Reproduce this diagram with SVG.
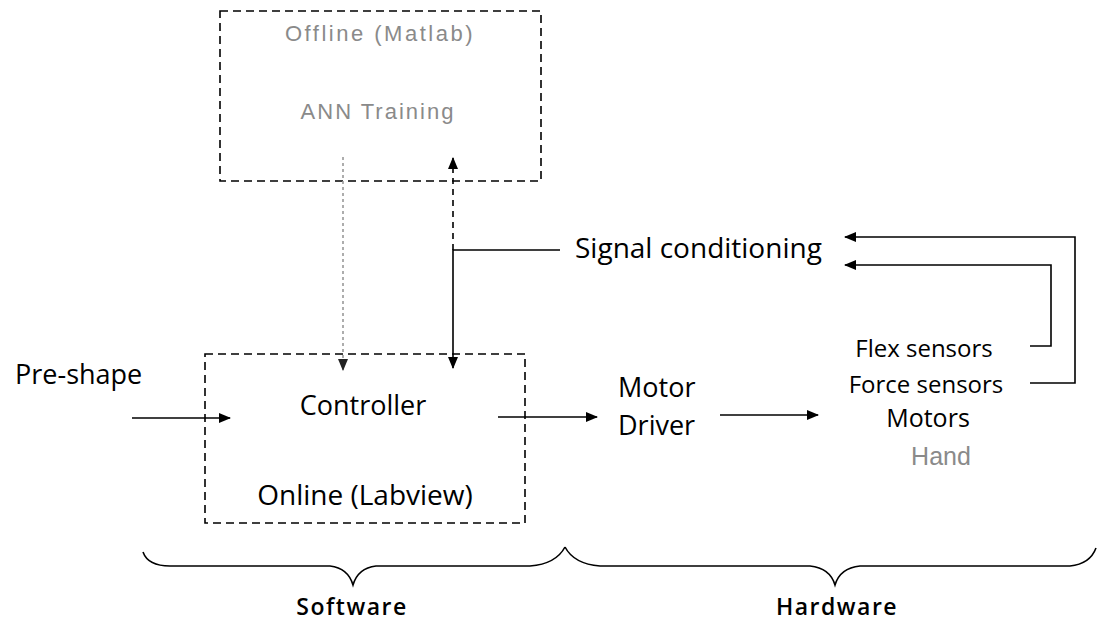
<svg xmlns="http://www.w3.org/2000/svg" width="1102" height="629" viewBox="0 0 1102 629">
<defs>
<marker id="ah" viewBox="0 0 12 10" refX="11" refY="5" markerWidth="12" markerHeight="10" markerUnits="userSpaceOnUse" orient="auto">
<path d="M0,0 L12,5 L0,10 Z" fill="#000"/>
</marker>
<marker id="ahg" viewBox="0 0 12 10" refX="11" refY="5" markerWidth="12" markerHeight="10" markerUnits="userSpaceOnUse" orient="auto">
<path d="M0,0 L12,5 L0,10 Z" fill="#222"/>
</marker>
</defs>
<style>
.box{fill:none;stroke:#000;stroke-width:1.6;stroke-dasharray:8 5}
.t{font-family:"Open Sans","Noto Sans",sans-serif;fill:#000}
.g{font-family:"Liberation Sans",Arial,sans-serif;fill:#8a8a8a}
.c{fill:none;stroke:#000;stroke-width:1.6}
.brace{fill:none;stroke:#000;stroke-width:1.6}
</style>
<rect width="1102" height="629" fill="#fff"/>
<g id="offline">
<rect class="box" x="220" y="11" width="321" height="170"/>
<text class="g" x="380" y="41" font-size="22" letter-spacing="2.5" text-anchor="middle">Offline (Matlab)</text>
<text class="g" x="378" y="119" font-size="22" letter-spacing="2" text-anchor="middle">ANN Training</text>
</g>
<g id="controller">
<rect class="box" x="205" y="354" width="320" height="169"/>
<text class="t" x="363" y="415" font-size="27" text-anchor="middle">Controller</text>
<text class="t" x="365" y="505" font-size="28" text-anchor="middle">Online (Labview)</text>
</g>
<g id="preshape">
<text class="t" x="15" y="384" font-size="27">Pre-shape</text>
</g>
<g id="signal">
<text class="t" x="575" y="258" font-size="28">Signal conditioning</text>
</g>
<g id="motordriver">
<text class="t" x="618" y="397" font-size="27">Motor</text>
<text class="t" x="618" y="435" font-size="27">Driver</text>
</g>
<g id="hand">
<text class="t" x="924" y="357" font-size="24" text-anchor="middle">Flex sensors</text>
<text class="t" x="926" y="393" font-size="24" text-anchor="middle">Force sensors</text>
<text class="t" x="928" y="427" font-size="25" text-anchor="middle">Motors</text>
<text class="g" x="941" y="465" font-size="25" text-anchor="middle">Hand</text>
</g>
<g id="connectors">
<line class="c" x1="132" y1="418" x2="230" y2="418" marker-end="url(#ah)"/>
<line class="c" x1="498" y1="417" x2="597" y2="417" marker-end="url(#ah)"/>
<line class="c" x1="720" y1="415" x2="818" y2="415" marker-end="url(#ah)"/>
<polyline class="c" points="1030,383 1075,383 1075,237 845,237" marker-end="url(#ah)"/>
<polyline class="c" points="1030,346 1051,346 1051,265 845,265" marker-end="url(#ah)"/>
<polyline class="c" points="560,250 453,250 453,368" marker-end="url(#ah)"/>
<line class="c" x1="453" y1="250" x2="453" y2="158" stroke-dasharray="6 5" marker-end="url(#ah)"/>
<line x1="343" y1="157" x2="343" y2="370" stroke="#999" stroke-width="1.6" stroke-dasharray="3 3" marker-end="url(#ahg)"/>
</g>
<g id="braces">
<path class="brace" d="M143,552 Q148,566 170,566 L330,566 Q348,568 353,585 Q358,568 376,566 L530,566 Q556,564 565,547"/>
<path class="brace" d="M565,547 Q574,564 600,566 L810,566 Q830,568 835,585 Q840,568 860,566 L1070,566 Q1090,564 1096,548"/>
<text class="t" x="352" y="615" font-size="23" font-weight="600" letter-spacing="1.5" text-anchor="middle">Software</text>
<text class="t" x="837" y="615" font-size="23" font-weight="600" letter-spacing="1.5" text-anchor="middle">Hardware</text>
</g>
</svg>
